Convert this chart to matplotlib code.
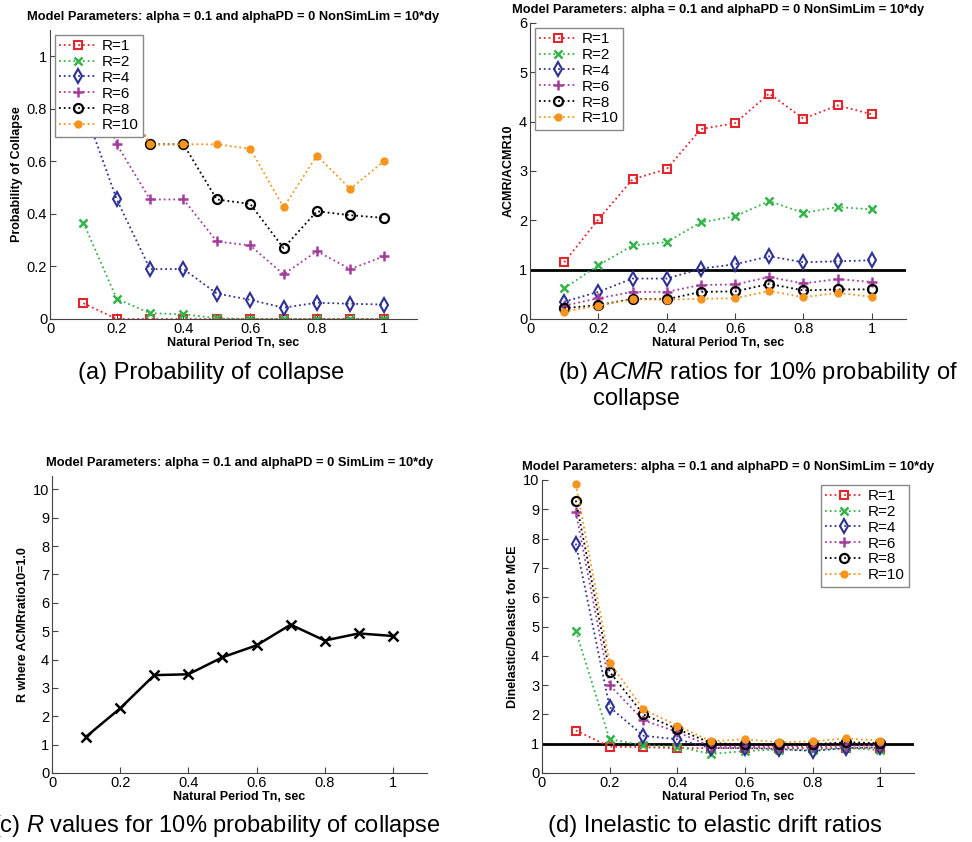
import matplotlib
matplotlib.use("Agg")
import matplotlib.pyplot as plt

plt.rcParams['font.family'] = ['Liberation Sans', 'DejaVu Sans']
plt.rcParams['mathtext.fontset'] = 'custom'
plt.rcParams['mathtext.it'] = 'Liberation Sans:italic'
plt.rcParams['mathtext.rm'] = 'Liberation Sans'

# natural periods Tn (sec)
periods = [0.1, 0.2, 0.3, 0.4, 0.5, 0.6, 0.7, 0.8, 0.9, 1.0]
r_labels = ["R=1", "R=2", "R=4", "R=6", "R=8", "R=10"]

# (a) probability of collapse
prob_r1 = [0.06, 0.0, 0.0, 0.0, 0.0, 0.0, 0.0, 0.0, 0.0, 0.0]
prob_r2 = [0.367, 0.077, 0.022, 0.018, 0.003, 0.0, 0.0, 0.0, 0.0, 0.0]
prob_r4 = [0.81, 0.455, 0.19, 0.19, 0.097, 0.073, 0.043, 0.062, 0.058, 0.055]
prob_r6 = [1.0, 0.665, 0.455, 0.455, 0.295, 0.28, 0.17, 0.258, 0.19, 0.238]
prob_r8 = [1.0, 0.88, 0.665, 0.665, 0.455, 0.438, 0.27, 0.41, 0.395, 0.385]
prob_r10 = [1.0, 0.88, 0.665, 0.665, 0.665, 0.648, 0.425, 0.622, 0.495, 0.60]

# (b) ACMR / ACMR10
acmr_r1 = [1.15, 2.02, 2.83, 3.04, 3.85, 3.97, 4.57, 4.06, 4.33, 4.15]
acmr_r2 = [0.62, 1.09, 1.49, 1.56, 1.96, 2.08, 2.39, 2.15, 2.27, 2.22]
acmr_r4 = [0.35, 0.55, 0.82, 0.82, 1.02, 1.11, 1.27, 1.15, 1.17, 1.19]
acmr_r6 = [0.27, 0.42, 0.55, 0.55, 0.69, 0.70, 0.85, 0.72, 0.81, 0.75]
acmr_r8 = [0.22, 0.28, 0.41, 0.40, 0.55, 0.56, 0.71, 0.58, 0.60, 0.60]
acmr_r10 = [0.15, 0.27, 0.40, 0.39, 0.41, 0.42, 0.57, 0.44, 0.53, 0.45]

# (c) R where ACMR ratio = 1.0
r_at_ratio1 = [1.28, 2.28, 3.45, 3.48, 4.08, 4.50, 5.23, 4.67, 4.92, 4.83]

# (d) Dinelastic / Delastic for MCE
drift_r1 = [1.45, 0.90, 0.88, 0.85, 0.85, 0.85, 0.85, 0.85, 0.85, 0.85]
drift_r2 = [4.85, 1.15, 0.95, 0.90, 0.65, 0.75, 0.80, 0.78, 0.85, 0.78]
drift_r4 = [7.83, 2.25, 1.27, 1.15, 0.85, 0.85, 0.82, 0.75, 0.85, 0.88]
drift_r6 = [8.90, 3.00, 1.80, 1.40, 0.90, 0.90, 0.90, 0.90, 0.92, 0.95]
drift_r8 = [9.30, 3.45, 2.00, 1.50, 1.02, 0.98, 0.98, 0.98, 1.05, 1.02]
drift_r10 = [9.85, 3.77, 2.17, 1.62, 1.08, 1.15, 1.05, 1.08, 1.18, 1.10]

styles = [
    dict(color='#e3262b', marker='s', mfc='none', ms=5.5, mew=1.5),
    dict(color='#34b34a', marker='x', ms=6, mew=1.8),
    dict(color='#2e3192', marker='d', mfc='none', ms=7.5, mew=1.5),
    dict(color='#a23b9c', marker='+', ms=7.5, mew=1.8),
    dict(color='black', marker='o', mfc='none', ms=6.5, mew=1.6),
    dict(color='#f7941d', marker='.', ms=10),
]

W, H = 972, 842
fig = plt.figure(figsize=(W / 100, H / 100), dpi=100)


def add_ax(left, right, top, bottom):
    return fig.add_axes([left / W, 1 - bottom / H, (right - left) / W, (bottom - top) / H])


def style_ax(ax, title, ylabel, ylim, yticks):
    ax.set_xlim(0, 1.1)
    ax.set_ylim(*ylim)
    ax.set_xticks([0, 0.2, 0.4, 0.6, 0.8, 1])
    ax.set_xticklabels(["0", "0.2", "0.4", "0.6", "0.8", "1"])
    ax.set_yticks(yticks)
    ax.set_yticklabels([f"{t:g}" for t in yticks])
    for s in ("top", "right"):
        ax.spines[s].set_visible(False)
    for s in ("left", "bottom"):
        ax.spines[s].set_color("#444444")
        ax.spines[s].set_linewidth(0.8)
    ax.tick_params(direction="in", length=4, width=0.8, labelsize=10.5, pad=2, color="#444444")
    ax.set_title(title, fontsize=9.3, fontweight="bold", pad=7)
    ax.set_xlabel("Natural Period Tn, sec", fontsize=9, fontweight="bold", labelpad=1)
    ax.set_ylabel(ylabel, fontsize=9, fontweight="bold", labelpad=3)


def plot_series(ax, series):
    for vals, lab, st in zip(series, r_labels, styles):
        ax.plot(periods, vals, linestyle=":", lw=1.3, label=lab, **st)


def add_legend(ax, loc):
    ax.legend(loc=loc, fontsize=11, handlelength=2.4, fancybox=False, edgecolor="#888888",
              framealpha=1, borderpad=0.3, labelspacing=0.12, handletextpad=0.4,
              borderaxespad=0.3)


title_ns = "Model Parameters: alpha = 0.1 and alphaPD = 0 NonSimLim = 10*dy"

# (a)
ax_a = add_ax(50, 417, 30, 319)
plot_series(ax_a, [prob_r1, prob_r2, prob_r4, prob_r6, prob_r8, prob_r10])
style_ax(ax_a, title_ns, "Probability of Collapse", (0, 1.1), [0, 0.2, 0.4, 0.6, 0.8, 1])
add_legend(ax_a, "upper left")

# (b)
ax_b = add_ax(530, 906, 23, 319)
ax_b.axhline(1, color="black", lw=2)
plot_series(ax_b, [acmr_r1, acmr_r2, acmr_r4, acmr_r6, acmr_r8, acmr_r10])
style_ax(ax_b, title_ns, "ACMR/ACMR10", (0, 6), [0, 1, 2, 3, 4, 5, 6])
add_legend(ax_b, "upper left")

# (c)
ax_c = add_ax(52, 427, 476, 773)
ax_c.plot(periods, r_at_ratio1, color="black", lw=1.8, marker="x", ms=7.5, mew=1.8)
style_ax(ax_c, "Model Parameters: alpha = 0.1 and alphaPD = 0 SimLim = 10*dy",
         "R where ACMRratio10=1.0", (0, 10.47), list(range(0, 11)))

# (d)
ax_d = add_ax(542, 914, 480, 773)
ax_d.axhline(1, color="black", lw=2)
plot_series(ax_d, [drift_r1, drift_r2, drift_r4, drift_r6, drift_r8, drift_r10])
style_ax(ax_d, title_ns, "Dinelastic/Delastic for MCE", (0, 10), list(range(0, 11)))
add_legend(ax_d, "upper right")

# captions
cap = dict(fontsize=17, va="center")
fig.text(78 / W, 1 - 373 / H, "(a) Probability of collapse", **cap)
fig.text(558 / W, 1 - 373 / H, r"(b) $\mathit{ACMR}$ ratios for 10% probability of", **cap)
fig.text(593 / W, 1 - 399 / H, "collapse", **cap)
fig.text(-8 / W, 1 - 826 / H, r"(c) $\mathit{R}$ values for 10% probability of collapse", **cap)
fig.text(548 / W, 1 - 826 / H, "(d) Inelastic to elastic drift ratios", **cap)

fig.savefig("out.png", dpi=100)
